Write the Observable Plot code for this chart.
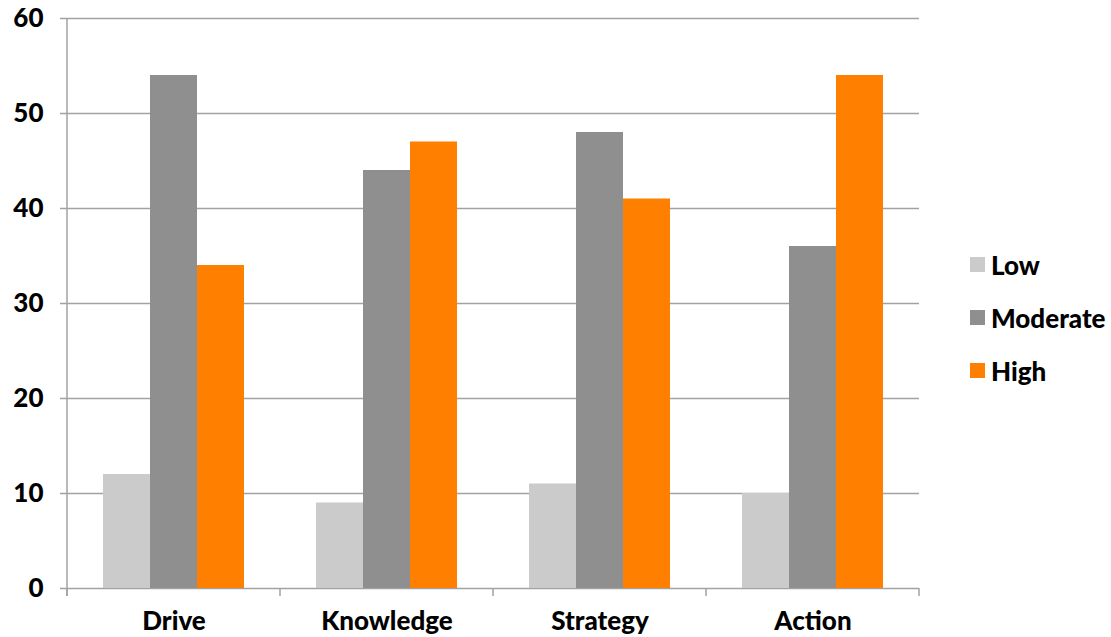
<!DOCTYPE html>
<html><head><meta charset="utf-8">
<script src="https://cdn.jsdelivr.net/npm/d3@7"></script>
<script src="https://cdn.jsdelivr.net/npm/@observablehq/plot@0.6"></script>
<style>
body{margin:0;background:#fff;}
#wrap{position:relative;width:1111px;height:637px;}
#legend{position:absolute;left:970px;top:238px;font-family:Lato,sans-serif;font-weight:900;font-size:26px;color:#000;}
.item{display:flex;align-items:center;height:53px;}
.sw{width:15px;height:15px;margin-right:6px;flex:none}
</style></head><body><div id="wrap"></div>
<script>
const categories = ["Drive", "Knowledge", "Strategy", "Action"];
const series = ["Low", "Moderate", "High"];
const low = [12, 9, 11, 10];
const moderate = [54, 44, 48, 36];
const high = [34, 47, 41, 54];
const colors = ["#cbcbcb", "#8f8f8f", "#ff7f00"];
const yTicks = [0, 10, 20, 30, 40, 50, 60];

const values = {Low: low, Moderate: moderate, High: high};
const data = categories.flatMap((c, i) => series.map(s => ({category: c, series: s, value: values[s][i]})));

const gridColor = "#a2a2a2";

const chart = Plot.plot({
  width: 1111,
  height: 637,
  marginLeft: 67,
  marginRight: 192,
  marginTop: 18,
  marginBottom: 49,
  style: {fontFamily: "Lato, sans-serif", fontWeight: 900, fontSize: "26px", color: "#000", background: "#fff"},
  fx: {domain: categories, padding: 0, label: null, axis: null},
  x: {domain: series, paddingInner: 0, paddingOuter: 0.75, axis: null},
  y: {domain: [0, 60], axis: null},
  color: {domain: series, range: colors},
  marks: [
    Plot.gridY(yTicks, {stroke: gridColor, strokeOpacity: 1, strokeWidth: 1.5}),
    Plot.barY(data, {fx: "category", x: "series", y: "value", fill: "series"}),
    Plot.axisY(yTicks, {anchor: "left", tickSize: 7, tickPadding: 17, stroke: gridColor, strokeWidth: 1.5, label: null, fontSize: 26, fill: "#000"}),
    Plot.axisFx({anchor: "bottom", tickSize: 0, tickPadding: 23, label: null, fontSize: 26, fill: "#000"})
  ]
});

// axis line and category boundary ticks, placed with Plot's own scales
const fx = chart.scale("fx");
const y = chart.scale("y");
const svg = d3.select(chart.tagName.toLowerCase() === "svg" ? chart : chart.querySelector("svg"));
const y0 = y.apply(0);
const edges = categories.map(c => fx.apply(c)).concat([fx.apply(categories[categories.length - 1]) + fx.bandwidth]);
const g = svg.append("g").attr("stroke", gridColor).attr("stroke-width", 1.5);
g.selectAll("line.edge").data(edges).join("line")
  .attr("x1", d => d).attr("x2", d => d)
  .attr("y1", y0).attr("y2", y0 + 8);
g.append("line").attr("x1", edges[0]).attr("x2", edges[0]).attr("y1", y.apply(60)).attr("y2", y0 + 8);

const wrap = document.getElementById("wrap");
wrap.appendChild(chart);

const legend = document.createElement("div");
legend.id = "legend";
series.forEach((s, i) => {
  const item = document.createElement("div");
  item.className = "item";
  const sw = document.createElement("span");
  sw.className = "sw";
  sw.style.background = colors[i];
  const t = document.createElement("span");
  t.textContent = s;
  item.appendChild(sw);
  item.appendChild(t);
  legend.appendChild(item);
});
wrap.appendChild(legend);
</script>
</body></html>
